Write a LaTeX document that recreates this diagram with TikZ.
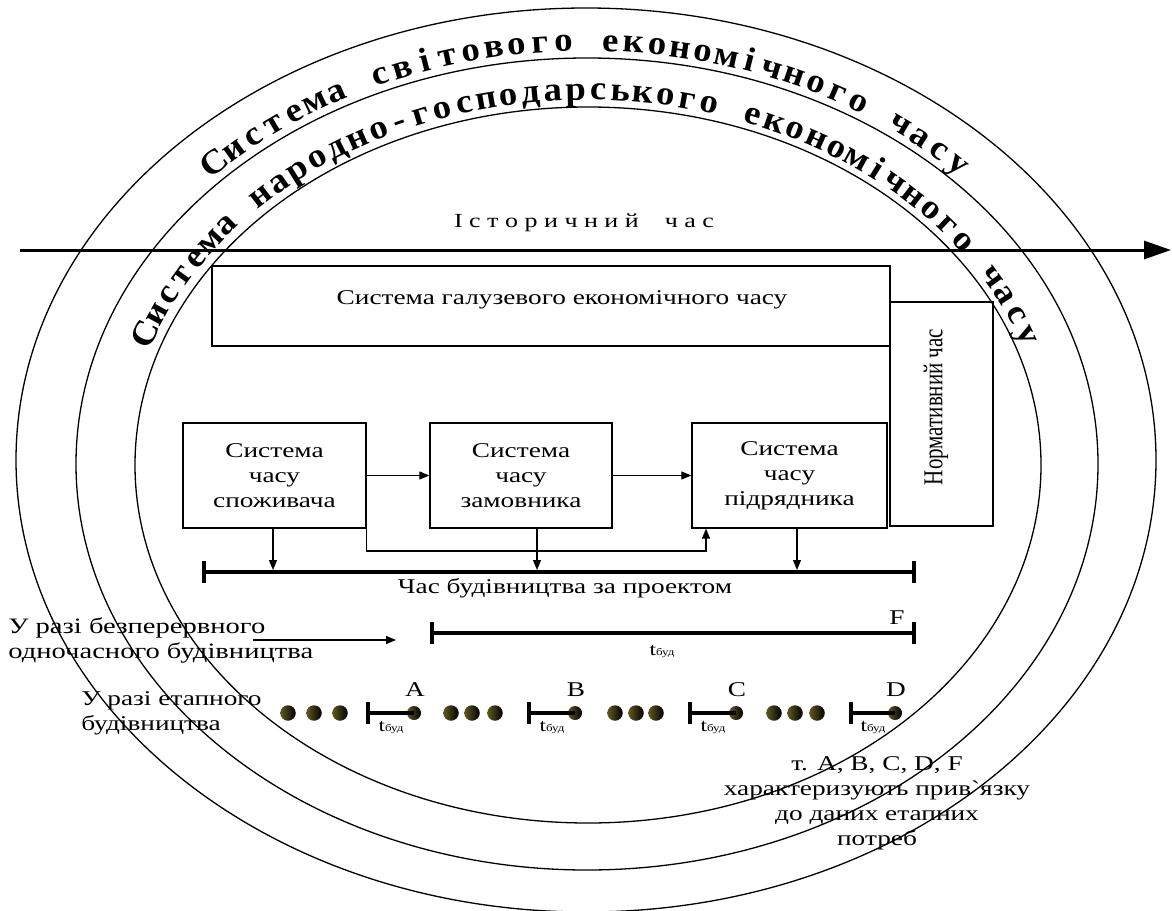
\documentclass[tikz,border=0pt]{standalone}
\usepackage{fontspec}
\setmainfont{Liberation Serif}
\usetikzlibrary{arrows.meta,decorations.markings,calc}

\definecolor{dotlight}{RGB}{96,90,34}
\newcommand\tbud{{\fontsize{18}{18}\selectfont t}{\fontsize{10}{10}\selectfont буд}}
\newcommand\plaingrave{{\addfontfeature{Ligatures=TeXOff}\char"60}}

% letters spread evenly along an elliptic arc around (bc)
% #1 x radius, #2 y radius, #3 start angle, #4 end angle, #5 number of slots, #6 letters
\newcommand\bandtext[6]{%
  \foreach \ch [count=\k from 0] in {#6} {
    \pgfmathsetmacro\pos{0.0005+0.999*\k/(#5-1)}
    \path[decoration={markings, mark=at position \pos with {\node[bandletter] {\ch};}}, decorate]
      ($(bc)+(#3:#1 and #2)$) arc[start angle=#3, end angle=#4, x radius=#1, y radius=#2];
  }}

\begin{document}
\begin{tikzpicture}[x=1pt,y=1pt,
  ring/.style={line width=1.3pt},
  box/.style={draw, line width=1.3pt, inner sep=0pt},
  txt/.style={font=\fontsize{21}{25}\selectfont, xscale=1.3, inner sep=0pt, align=center},
  arr/.style={line width=1.1pt, -{Triangle[length=10pt,width=8pt]}},
  bar/.style={line width=4pt, {Bar[width=22pt]}-{Bar[width=22pt]}},
  lbar/.style={line width=4pt, {Bar[width=22pt]}-},
  dot/.style={circle, minimum size=15.5pt, inner sep=0pt, left color=dotlight, right color=black},
  bandletter/.style={font=\bfseries\fontsize{34}{34}\selectfont, transform shape, anchor=base, inner sep=0pt, xscale=1.08}
]
\useasboundingbox (0,-910) rectangle (1172,0);

% nested economic time systems
\coordinate (bc) at (587,-463);
\draw[ring] (586,-460) ellipse[x radius=570, y radius=452];
\draw[ring] (587,-464) ellipse[x radius=511, y radius=406];
\draw[ring] (588,-465) ellipse[x radius=453, y radius=358];

\bandtext{518pt}{412pt}{135}{45}{35}{С,и,с,т,е,м,а,{},с,в,і,т,о,в,о,г,о,{},е,к,о,н,о,м,і,ч,н,о,г,о,{},ч,а,с,у}
\bandtext{460pt}{363pt}{160}{20}{48}{С,и,с,т,е,м,а,{},н,а,р,о,д,н,о,-,г,о,с,п,о,д,а,р,с,ь,к,о,г,о,{},е,к,о,н,о,м,і,ч,н,о,г,о,{},ч,а,с,у}

% historical time axis
\coordinate (histL) at (20,-250);
\coordinate (histR) at (1171,-250);
\draw[line width=3pt, -{Triangle[length=27pt,width=18pt]}] (histL) -- (histR);
\node[txt, font=\fontsize{20}{24}\selectfont] (hist) at (584,-223) {І с т о р и ч н и й \ \ \ ч а с};

% branch system and normative time
\node[box, minimum width=678pt, minimum height=80pt] (galuz) at (551,-306) {};
\node[txt] (galuztxt) at (562,-300) {Система галузевого економічного часу};
\node[box, minimum width=103pt, minimum height=224pt] (norm) at (941.5,-414) {};
\node[txt, rotate=90] (normtxt) at (936,-407) {Нормативний час};

% participants' time systems
\node[box, minimum width=183pt, minimum height=105pt] (b1) at (274.5,-475.5) {};
\node[box, minimum width=182pt, minimum height=105pt] (b2) at (521,-475.5) {};
\node[box, minimum width=195pt, minimum height=105pt] (b3) at (789.5,-475.5) {};
\node[txt] (b1txt) at (b1) {Система\\часу\\споживача};
\node[txt] (b2txt) at (b2) {Система\\часу\\замовника};
\node[txt] (b3txt) at (b3) {Система\\часу\\підрядника};

\draw[arr] (b1.east) -- (b2.west);
\draw[arr] (b2.east) -- (b3.west);

% construction time by design
\coordinate (tL) at (202,-572);
\coordinate (tR) at (916,-572);
\draw[bar] (tL) -- (tR);
\node[txt] (ttxt) at (565,-588) {Час будівництва за проектом};

\coordinate (d1) at (273,-528);
\coordinate (d2) at (537,-528);
\coordinate (d3) at (797,-528);
\draw[arr] (d1) -- ($(d1 |- tL)+(0,2)$);
\draw[arr] (d2) -- ($(d2 |- tL)+(0,2)$);
\draw[arr] (d3) -- ($(d3 |- tL)+(0,2)$);
\coordinate (elb) at (706,-551);
\draw[arr] (b1.south east) |- (elb) -- (elb |- b3.south);

% continuous construction
\node[txt, font=\fontsize{22}{25}\selectfont, anchor=west, align=left] (cont) at (8,-640) {У разі безперервного\\одночасного будівництва};
\coordinate (contA) at (253,-640);
\coordinate (contB) at (396,-640);
\draw[arr] (contA) -- (contB);
\coordinate (fL) at (430,-633);
\coordinate (fR) at (916,-633);
\draw[bar] (fL) -- (fR);
\node[txt] (Flab) at (897,-618) {F};
\node[txt] (ftb) at (662,-652) {\tbud};

% staged construction
\node[txt, anchor=west, align=left] (stage) at (81,-713) {У разі етапного\\будівництва};
\foreach \x [count=\i] in {288,314,340, 451,472,495, 615,636,656, 774,795,817}
  \node[dot] (g\i) at (\x,-713) {};
\foreach \s/\e/\l in {366/414/A, 527/575/B, 688/736/C, 849/895/D} {
  \coordinate (s\l) at (\s,-713);
  \node[dot, minimum size=14pt] (p\l) at (\e,-713) {};
  \draw[lbar] (s\l) -- (p\l.center);
  \node[txt] (lab\l) at (\e+1,-690) {\l};
  \node[txt] (tb\l) at ($(s\l)!0.5!(p\l)+(1,-15)$) {\tbud};
}

% note
\node[txt] (note) at (877,-803) {т. A, B, C, D, F\\характеризують прив\plaingrave язку\\до даних етапних\\потреб};
\end{tikzpicture}
\end{document}
